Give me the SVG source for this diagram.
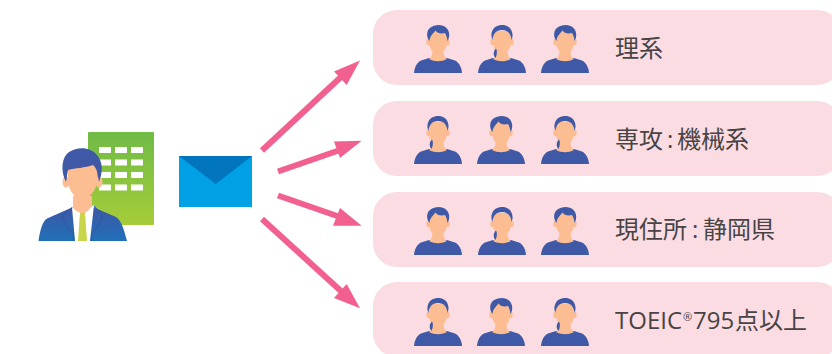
<svg xmlns="http://www.w3.org/2000/svg" width="832" height="354" viewBox="0 0 832 354">
<style>
.pill{fill:#fadce2}
.lbl{font-family:"Open Sans","Noto Sans CJK JP",sans-serif;font-size:24px;fill:#484445}
.shirt{fill:#3f59a6}
.skin{fill:#fdbd93}
.conn path{fill:none;stroke:#f2608f;stroke-width:6}
.conn polygon{fill:#f2608f}
</style>
<defs>
<linearGradient id="gb" x1="0" y1="0" x2="0" y2="1"><stop offset="0" stop-color="#6fbb46"/><stop offset="1" stop-color="#a6cd39"/></linearGradient>
<linearGradient id="gs" x1="0" y1="0" x2="0" y2="1"><stop offset="0" stop-color="#3f57a6"/><stop offset="1" stop-color="#1f70b8"/></linearGradient>
<g id="base">
<path class="shirt" d="M-24,48C-23.500,42 -21,37.500 -17,35.500L-9,33L9,33L17,35.500C21,37.500 23.500,42 24,48Z"/>
<path class="skin" d="M-9,34C-6,32 -5.500,29 -5.500,24L5.500,24C5.500,29 6,32 9,34C3,37 -3,37 -9,34Z"/>
<ellipse class="skin" cx="-9.500" cy="17" rx="2.200" ry="3.200"/><ellipse class="skin" cx="9.500" cy="17" rx="2.200" ry="3.200"/>
<path class="skin" d="M-9,6H9V17C9,24 4.500,28.500 0,28.500C-4.500,28.500 -9,24 -9,17Z"/>
</g>
<g id="swept">
<use href="#base"/>
<path class="shirt" d="M-8.500,16C-12,12 -11.500,5 -7.500,2.500C-3.500,-1 5,-1 8,2.500C12,6 12,12 9.500,16C9.200,13 8.500,10 7,8C3,9 -1,8 -2.500,5.500C-5,9 -8,10.500 -8.500,16Z"/>
</g>
<g id="pony">
<use href="#base"/>
<path class="shirt" d="M-9.500,15C-12,10 -10,3 -5,1C-2,-0.500 3,-0.500 5,1C10,3 12,10 9.500,15C9,9 6,5 0,5C-6,5 -9,9 -9.500,15Z"/>
<path class="shirt" d="M-6,23.500C-9,26 -9,31 -6.500,33C-5,30 -4.500,26 -6,23.500Z"/>
</g>
</defs>
<g id="person-building">
<rect x="88" y="132" width="66" height="93" rx="1" fill="url(#gb)"/>
<g fill="#fff">
<rect x="99" y="147" width="12" height="6"/><rect x="115" y="147" width="12" height="6"/><rect x="131" y="147" width="12" height="6"/>
<rect x="99" y="159.500" width="12" height="6"/><rect x="115" y="159.500" width="12" height="6"/><rect x="131" y="159.500" width="12" height="6"/>
<rect x="99" y="172" width="12" height="6"/><rect x="115" y="172" width="12" height="6"/><rect x="131" y="172" width="12" height="6"/>
<rect x="99" y="184.500" width="12" height="6"/><rect x="115" y="184.500" width="12" height="6"/><rect x="131" y="184.500" width="12" height="6"/>
</g>
<path d="M38.500,241C40,231 42,222 47,218.500L72,207.500H94L116,217C122,221 124,230 127,241Z" fill="url(#gs)"/>
<path d="M72,207.500L75,241H90L94,205L83,212Z" fill="#fff"/>
<path d="M80,212H85L87,241H78Z" fill="#c9d64a"/>
<path d="M72,207.500L62,216L67,228L73,233L74,241M94,206L103,215L98,227L92,233L91,241" fill="none" stroke="#2d5a9c" stroke-width="1"/>
<ellipse class="skin" cx="66" cy="182" rx="3.500" ry="5.500"/><ellipse class="skin" cx="99" cy="182" rx="3.500" ry="5.500"/>
<path class="skin" d="M73,196V208C75,211 80,213 83,213C86,213 90,210 92,205V196Z"/>
<path class="skin" d="M68,160H97V180C97,190 89,199 82,199C75,199 68,190 68,180Z"/>
<path d="M66,182C60,170 62,157 69,152C78,146 91,147 97,155C103,162 103,172 99,182C98,175 97,168 93,165C85,168 75,168 68,170C67,174 67,178 66,182Z" fill="#3f59a6"/>
</g>
<g id="mail">
<rect x="179" y="156" width="73" height="51" fill="#00a0e4"/>
<path d="M179,156H252L215.700,184Z" fill="#0075bd"/>
</g>
<g class="conn" id="connectors">
<path d="M262,150.500L342,76"/><polygon points="360,60.500 346.700,85 334,71.500"/>
<path d="M278,171.500L340,150"/><polygon points="361.700,140.700 340,158 334,141.500"/>
<path d="M278,195.500L340,217"/><polygon points="361.700,225.700 333,225.700 340,208"/>
<path d="M262,219L342,292"/><polygon points="360,308.300 334,298 346.700,284"/>
</g>
<g id="row1">
<rect class="pill" x="373" y="10" width="468" height="75" rx="24"/>
<use href="#swept" x="438" y="25"/><use href="#pony" x="502" y="25"/><use href="#swept" x="565" y="25"/>
<text class="lbl" x="615" y="57">理系</text>
</g>
<g id="row2">
<rect class="pill" x="373" y="101" width="468" height="75" rx="24"/>
<use href="#pony" x="438" y="116"/><use href="#swept" x="501" y="116"/><use href="#pony" x="565" y="116"/>
<text class="lbl" x="615" y="148">専攻<tspan x="667">:</tspan><tspan x="677">機械系</tspan></text>
</g>
<g id="row3">
<rect class="pill" x="373" y="192" width="468" height="75" rx="24"/>
<use href="#swept" x="438" y="207"/><use href="#pony" x="502" y="207"/><use href="#swept" x="565" y="207"/>
<text class="lbl" x="615" y="238">現住所<tspan x="692">:</tspan><tspan x="703">静岡県</tspan></text>
</g>
<g id="row4">
<rect class="pill" x="373" y="282" width="468" height="75" rx="24"/>
<use href="#pony" x="438" y="298"/><use href="#swept" x="501" y="298"/><use href="#pony" x="565" y="298"/>
<text class="lbl" x="615" y="329">TOEIC<tspan x="683" y="321" font-size="11">®</tspan><tspan x="693" y="329">795</tspan><tspan x="735">点以上</tspan></text>
</g>
</svg>
